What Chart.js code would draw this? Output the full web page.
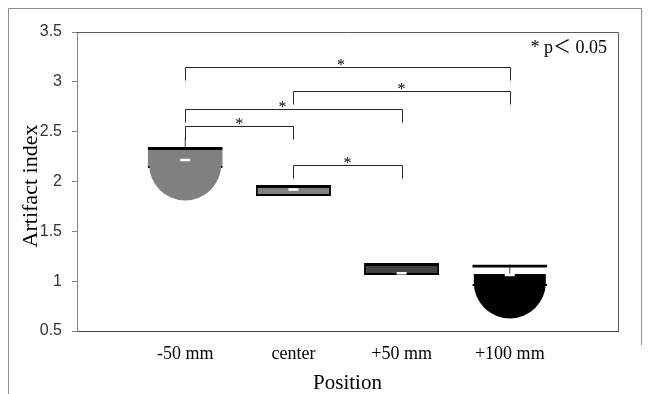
<!DOCTYPE html>
<html>
<head>
<meta charset="utf-8">
<script src="https://cdn.jsdelivr.net/npm/chart.js@4.4.1/dist/chart.umd.min.js"></script>
<style>
  body { margin: 0; background: #fff; }
  canvas { display: block; }
</style>
</head>
<body>
<canvas id="artifact" width="651" height="394"></canvas>
<script>
// positions along the x axis
var categories = ['-50 mm', 'center', '+50 mm', '+100 mm'];

// box edges (black lines at top and bottom)
var boxHigh = [2.345, 1.965, 1.183, 1.168];
var boxLow = [2.136, 1.855, 1.063, 0.952];
// mean value (white dash)
var meanValues = [2.216, 1.92, 1.08, 1.063];
// upper whisker
var whiskerHigh = [2.44, 1.965, 1.183, 1.168];
// rounded-bottom spread shape, only for the outer positions
var blobHigh = [2.306, null, null, 1.073];
var blobLow = [1.81, null, null, 0.626];

// significance brackets: pairs of positions (1 = first category), level, star position
var pairs = [[1, 4], [2, 4], [1, 3], [1, 2], [2, 3]];
var pairLevels = [3.15, 2.91, 2.73, 2.56, 2.17];
var starPositions = [2.44, 3.0, 1.9, 1.5, 2.5];

// y axis range
var yMin = 0.5, yMax = 3.5, yStep = 0.5;

// colours per position
var boxColors = ['#808080', '#808080', '#404040', 'rgba(0,0,0,0)'];
var boxSides = [0, 2, 2, 0];
var blobColors = ['#808080', null, null, '#000000'];

// empty slots at both ends so the categories sit inside the plot
function pad(arr) { return [null].concat(arr, [null]); }
var labels = pad(categories).map(l => l || '');
function range(lo, hi) {
    return pad(lo.map((v, i) => (v == null || hi[i] == null) ? null : [v, hi[i]]));
}

// draws the spread shapes as a rectangle with a half-circle bottom
var roundBottom = {
    id: 'roundBottom',
    beforeDatasetDraw(chart, args) {
        var ds = chart.data.datasets[args.index];
        if (ds.label !== 'blob') return;
        var ctx = chart.ctx;
        ctx.save();
        args.meta.data.forEach((bar, i) => {
            if (ds.data[i] == null) return;
            var p = bar.getProps(['x', 'y', 'base', 'width'], true);
            var top = Math.min(p.y, p.base), bottom = Math.max(p.y, p.base), r = p.width / 2;
            ctx.beginPath();
            ctx.moveTo(p.x - r, top);
            ctx.lineTo(p.x + r, top);
            ctx.lineTo(p.x + r, bottom - r);
            ctx.arc(p.x, bottom - r, r, 0, Math.PI);
            ctx.closePath();
            ctx.fillStyle = bar.options.backgroundColor;
            ctx.fill();
        });
        ctx.restore();
        return false;
    }
};

// brackets with stars, legend note, y title and frames
var extras = {
    id: 'extras',
    afterDraw(chart) {
        var ctx = chart.ctx, xs = chart.scales.x, ys = chart.scales.y, a = chart.chartArea;
        ctx.save();

        // outer frame
        ctx.strokeStyle = '#8c8c8c';
        ctx.lineWidth = 1;
        ctx.beginPath();
        ctx.moveTo(8.5, 394);
        ctx.lineTo(8.5, 8.5);
        ctx.lineTo(641.5, 8.5);
        ctx.lineTo(641.5, 345);
        ctx.stroke();

        // plot frame, top and right
        ctx.strokeStyle = '#595959';
        ctx.beginPath();
        ctx.moveTo(a.left, Math.round(a.top) + 0.5);
        ctx.lineTo(Math.round(a.right) + 0.5, Math.round(a.top) + 0.5);
        ctx.lineTo(Math.round(a.right) + 0.5, a.bottom);
        ctx.stroke();

        // brackets
        ctx.strokeStyle = '#262626';
        ctx.fillStyle = '#000';
        ctx.font = '16px "Liberation Serif"';
        ctx.textAlign = 'center';
        ctx.textBaseline = 'alphabetic';
        pairs.forEach((pr, i) => {
            var x1 = Math.round(xs.getPixelForValue(pr[0])) + 0.5;
            var x2 = Math.round(xs.getPixelForValue(pr[1])) + 0.5;
            var y = Math.round(ys.getPixelForValue(pairLevels[i])) + 0.5;
            ctx.beginPath();
            ctx.moveTo(x1, y + 13);
            ctx.lineTo(x1, y);
            ctx.lineTo(x2, y);
            ctx.lineTo(x2, y + 13);
            ctx.stroke();
            ctx.fillText('*', xs.getPixelForValue(starPositions[i]), y + 2);
        });

        // note
        ctx.font = '18px "Liberation Serif", "Noto Sans CJK JP"';
        ctx.textAlign = 'right';
        ctx.fillText('* p\uFF1C 0.05', 607, 53);

        // y axis title
        ctx.translate(31, 186);
        ctx.rotate(-Math.PI / 2);
        ctx.font = '22px "Liberation Serif"';
        ctx.textAlign = 'center';
        ctx.textBaseline = 'middle';
        ctx.fillText('Artifact index', 0, 0);
        ctx.restore();
    }
};

var ctx = document.getElementById('artifact').getContext('2d');
var chart = new Chart(ctx, {
    type: 'bar',
    data: {
        labels: labels,
        datasets: [{
            label: 'whisker',
            data: range(meanValues, whiskerHigh),
            backgroundColor: '#404040',
            borderWidth: 0,
            barThickness: 1,
            grouped: false,
            inflateAmount: 0,
            order: 4
        }, {
            label: 'box',
            data: range(boxLow, boxHigh),
            backgroundColor: pad(boxColors),
            borderColor: '#000',
            borderWidth: c => ({ top: 3, bottom: 2, left: boxSides[c.dataIndex - 1] || 0, right: boxSides[c.dataIndex - 1] || 0 }),
            borderSkipped: false,
            barThickness: 75,
            grouped: false,
            inflateAmount: 0,
            order: 3
        }, {
            label: 'blob',
            data: range(blobLow, blobHigh),
            backgroundColor: pad(blobColors),
            borderWidth: 0,
            borderSkipped: false,
            barThickness: 72,
            grouped: false,
            inflateAmount: 0,
            order: 2
        }, {
            type: 'line',
            label: 'mean',
            data: pad(meanValues),
            showLine: false,
            pointStyle: 'line',
            pointRadius: 5,
            pointHoverRadius: 5,
            pointBorderColor: '#fff',
            pointBorderWidth: 2.5,
            order: 1
        }]
    },
    options: {
        responsive: false,
        animation: false,
        events: [],
        devicePixelRatio: 1,
        layout: { padding: { top: 32, right: 33, left: 0, bottom: 0 } },
        plugins: { legend: { display: false }, tooltip: { enabled: false } },
        scales: {
            x: {
                type: 'category',
                offset: false,
                grid: { display: false },
                border: { display: true, color: '#404040', width: 1 },
                ticks: {
                    autoSkip: false,
                    maxRotation: 0,
                    padding: 4,
                    color: '#000',
                    font: { family: '"Liberation Serif"', size: 18 }
                },
                title: {
                    display: true,
                    text: 'Position',
                    color: '#000',
                    padding: { top: 0, bottom: -2 },
                    font: { family: '"Liberation Serif"', size: 21 }
                },
                afterFit: s => { s.height = 63; }
            },
            y: {
                min: yMin,
                max: yMax,
                grid: { drawOnChartArea: false, drawTicks: true, tickLength: 5, color: '#868686' },
                border: { display: true, color: '#868686', width: 1 },
                ticks: {
                    stepSize: yStep,
                    padding: 10,
                    color: '#333',
                    font: { family: '"Liberation Sans"', size: 16 },
                    callback: v => String(+v.toFixed(2))
                },
                afterFit: s => { s.width = 77; }
            }
        }
    },
    plugins: [roundBottom, extras]
});
</script>
</body>
</html>
